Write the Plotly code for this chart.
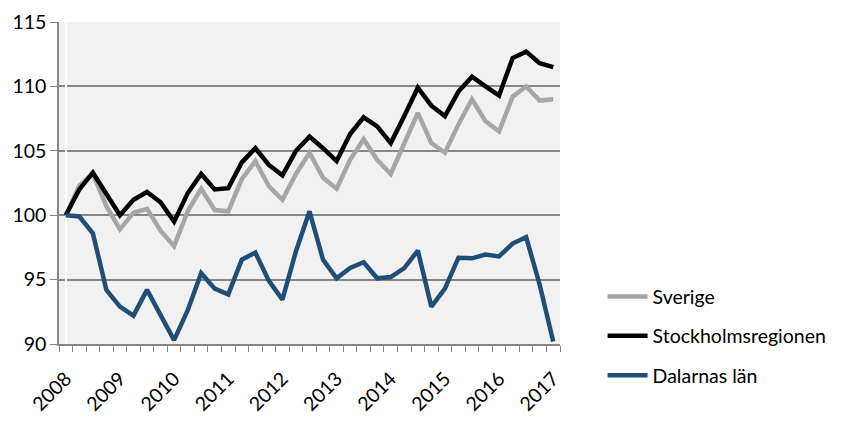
import plotly.graph_objects as go

# quarterly index, 2008Q1 = 100
quarters = list(range(37))
years = [str(y) for y in range(2008, 2018)]

sverige = [100, 102.3, 103.2, 100.7, 98.9, 100.2, 100.5, 98.8, 97.6, 100.3,
           102.05, 100.4, 100.3, 102.8, 104.2, 102.25, 101.2, 103.2, 104.85, 102.9,
           102.05, 104.3, 105.9, 104.3, 103.2, 105.6, 107.95, 105.6, 104.85, 107.05,
           109.0, 107.3, 106.5, 109.2, 110.0, 108.9, 109.0]
stockholm = [100, 102.0, 103.3, 101.6, 100.0, 101.2, 101.8, 101.0, 99.5, 101.7,
             103.2, 102.0, 102.1, 104.1, 105.2, 103.9, 103.1, 105.0, 106.1, 105.2,
             104.2, 106.3, 107.6, 106.9, 105.6, 107.7, 109.9, 108.5, 107.7, 109.6,
             110.75, 110.0, 109.3, 112.2, 112.7, 111.8, 111.5]
dalarna = [100, 99.9, 98.6, 94.2, 92.9, 92.2, 94.2, 92.3, 90.3, 92.6,
           95.5, 94.3, 93.85, 96.55, 97.1, 94.9, 93.45, 97.2, 100.3, 96.55,
           95.1, 95.9, 96.35, 95.1, 95.2, 95.9, 97.25, 92.9, 94.3, 96.7,
           96.65, 96.95, 96.8, 97.8, 98.3, 94.6, 90.2]

series = [("Sverige", sverige, "#a6a6a6"),
          ("Stockholmsregionen", stockholm, "#000000"),
          ("Dalarnas län", dalarna, "#1f4e79")]

fig = go.Figure()
for name, vals, col in series:
    fig.add_trace(go.Scatter(x=quarters, y=vals, name=name, mode="lines",
                             legendgroup=name,
                             line=dict(color=col, width=4.5)))

grid = "#868686"
fig.update_layout(
    width=867, height=430,
    margin=dict(l=59, r=307, t=22, b=86),
    paper_bgcolor="white", plot_bgcolor="#f1f1f1",
    font=dict(family="Lato", size=19.5, color="black"),
    showlegend=True,
    legend=dict(x=1.085, xanchor="left", y=0.207, yanchor="top",
                traceorder="grouped", tracegroupgap=11,
                itemwidth=40, font=dict(size=19.5)),
)
fig.update_xaxes(range=[-0.5, 36.5], tickmode="array",
                 tickvals=list(range(0, 37, 4)), ticktext=years,
                 tickangle=-45, ticks="", showgrid=False, automargin=False,
                 ticklabelstandoff=14,
                 showline=True, linecolor=grid, linewidth=1.5,
                 minor=dict(tick0=-0.5, dtick=1, ticks="outside",
                            ticklen=6, tickcolor=grid, showgrid=False))
fig.update_yaxes(range=[90, 115], dtick=5, showgrid=True, gridcolor=grid,
                 gridwidth=1.5, ticks="outside", ticklen=7, tickcolor=grid,
                 automargin=False, ticklabelstandoff=0,
                 showline=True, linecolor=grid, linewidth=1.5, zeroline=False)

# drop the browser's default body margin so the figure sits at 0,0
fig.write_html("out.html", config={"displayModeBar": False},
               post_script="document.body.style.margin='0';")
